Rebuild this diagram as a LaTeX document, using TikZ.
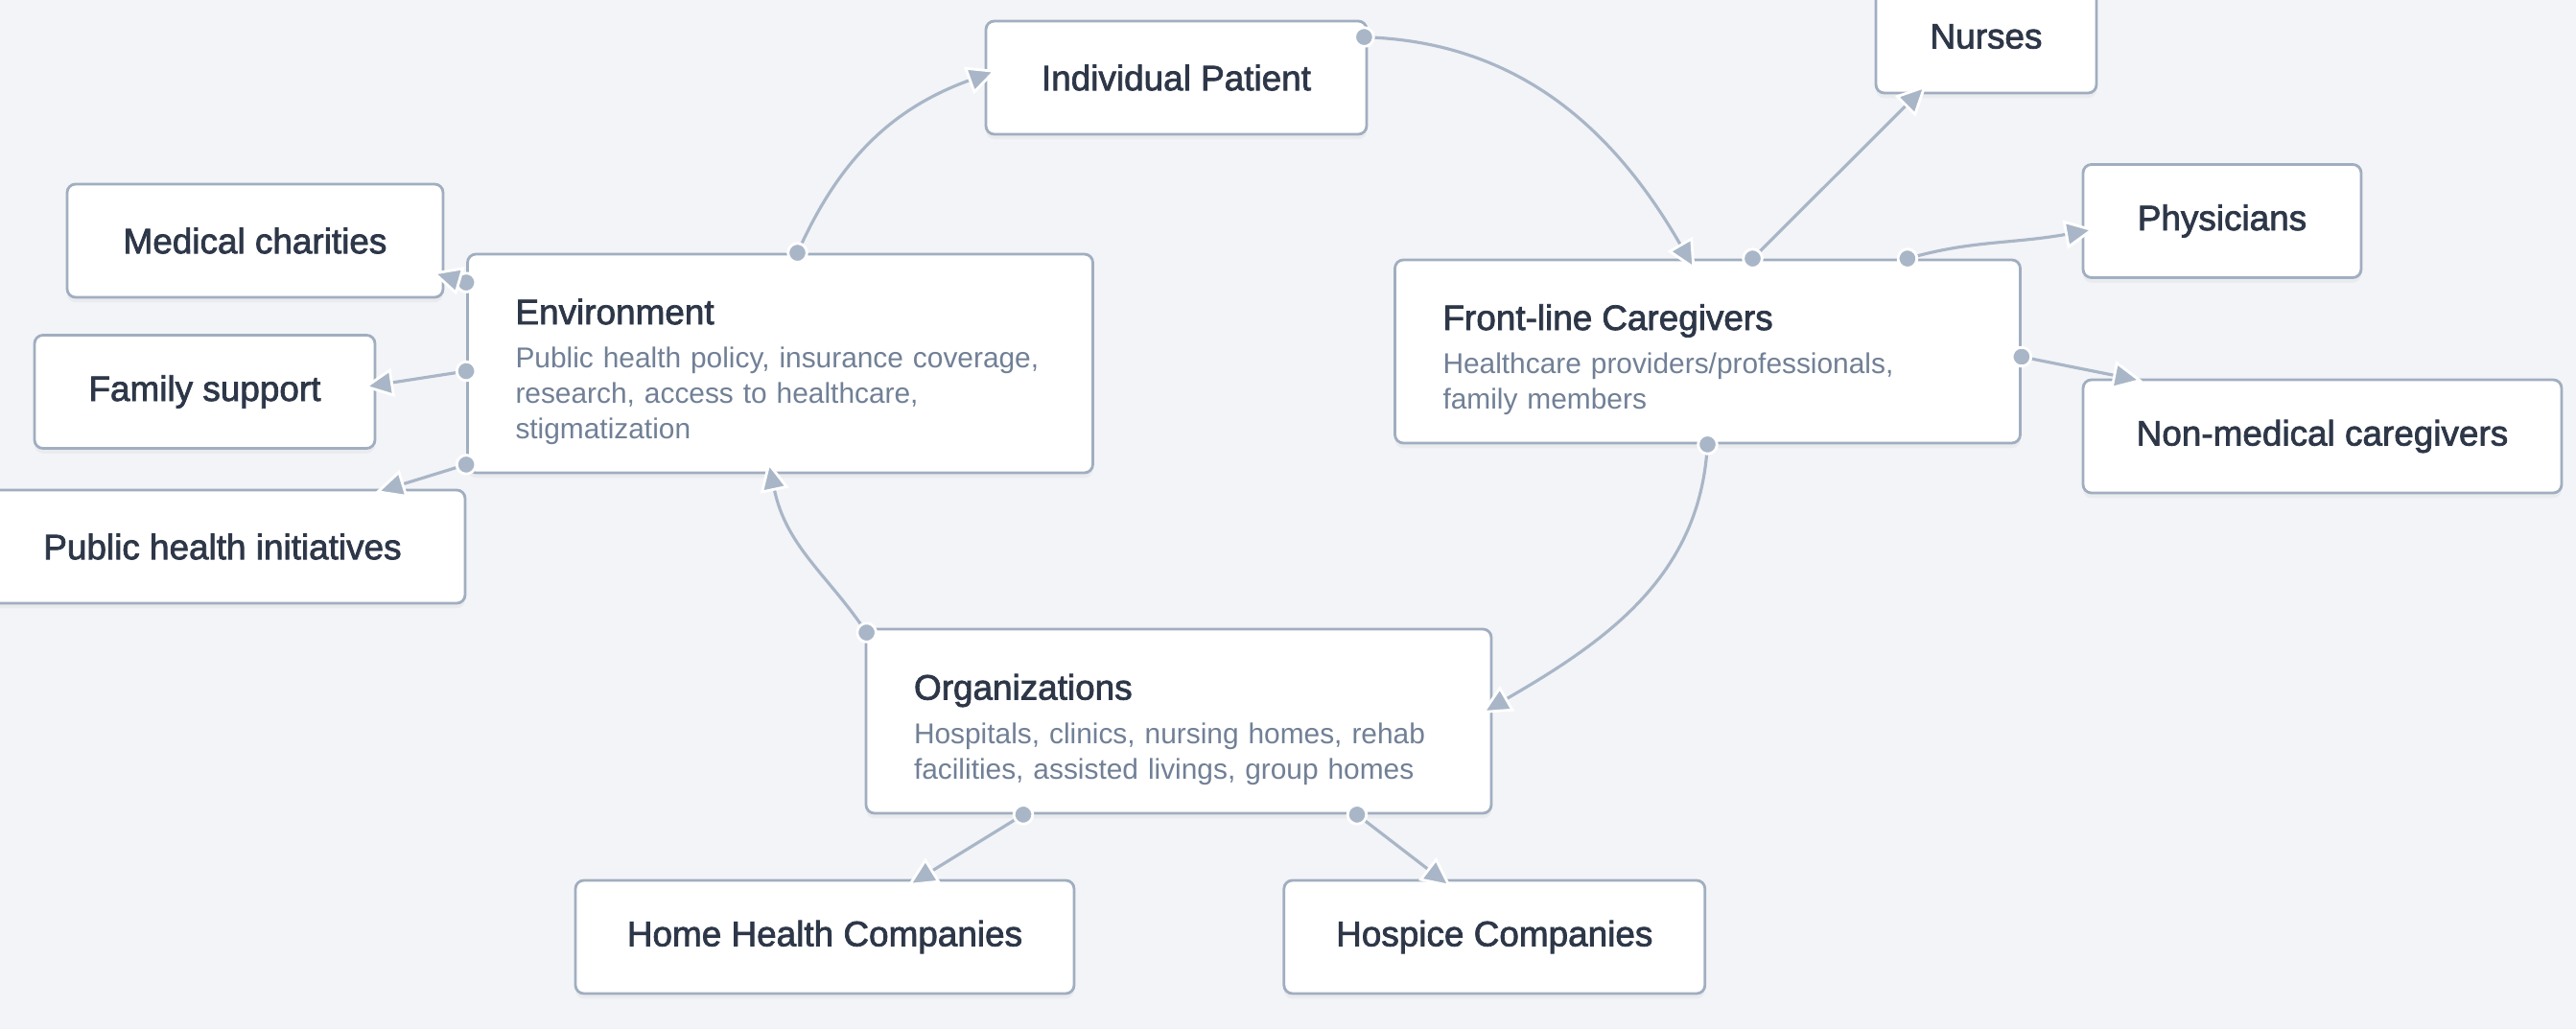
\documentclass[tikz,border=0pt]{standalone}
\usepackage{fontspec}
\setmainfont{Liberation Sans}
\newfontfamily\medium{Liberation Sans}[BoldFont={Liberation Sans}, BoldFeatures={FakeBold=2}]
\usetikzlibrary{arrows.meta,shadows,positioning}

\definecolor{bgc}{HTML}{F3F4F7}
\definecolor{boxline}{HTML}{A0AEC0}
\definecolor{edgec}{HTML}{A9B6C7}
\definecolor{titlec}{HTML}{2D3748}
\definecolor{subc}{HTML}{718096}

% heading line of the three big boxes
\newcommand{\hubhead}[1]{{\medium\bfseries\fontsize{10.5}{12}\selectfont\color{titlec}\rule{0pt}{12.5pt}#1}\\[2.5pt]}

\begin{document}
\begin{tikzpicture}[
        >={Stealth[inset=0pt,length=9pt,width=8.5pt,fill=edgec,color=white,line width'=0.8pt]},
        card/.style={draw=boxline, fill=white, line width=0.8pt, rounded corners=2.5pt,
            drop shadow={opacity=0.07, shadow xshift=0pt, shadow yshift=-1.5pt}},
        hub/.style={card, minimum width=6.52cm, text width=5.52cm, align=left, inner xsep=0.5cm,
            font=\fontsize{8.5}{10.5}\selectfont, text=subc},
        leaf/.style={card, minimum height=1.18cm, font=\medium\bfseries\fontsize{10.5}{12}\selectfont, text=titlec},
        link/.style={draw=edgec, line width=0.9pt,
            {Circle[length=6.4pt,fill=edgec,color=white,line width'=0.8pt]}->,
            shorten <=-3.2pt, shorten >=-4pt}
    ]
        \useasboundingbox (0,0) rectangle (26.86,10.73);
        \fill[bgc] (0,0) rectangle (26.86,10.73);

        % the four main groups
        \node (patient) [leaf, minimum width=3.97cm] at (12.265,9.92) {Individual Patient};
        \node (env) [hub, minimum height=2.28cm] at (8.135,6.94) {\hubhead{Environment}Public health policy, insurance coverage,\\research, access to healthcare,\\stigmatization};
        \node (front) [hub, minimum height=1.91cm] at (17.805,7.065) {\hubhead{Front-line Caregivers}Healthcare providers/professionals,\\family members};
        \node (org) [hub, minimum height=1.92cm] at (12.29,3.21) {\hubhead{Organizations}Hospitals, clinics, nursing homes, rehab\\facilities, assisted livings, group homes};

        % environment side
        \node (medchar) [leaf, minimum width=3.92cm] at (2.66,8.22) {Medical charities};
        \node (famsup) [leaf, minimum width=3.55cm] at (2.135,6.645) {Family support};
        \node (pubinit) [leaf, minimum width=5.06cm] at (2.32,5.03) {Public health initiatives};

        % caregivers side
        \node (nurses) [leaf, minimum width=2.30cm] at (20.71,10.35) {Nurses};
        \node (phys) [leaf, minimum width=2.90cm] at (23.17,8.425) {Physicians};
        \node (nonmed) [leaf, minimum width=4.99cm] at (24.215,6.18) {Non-medical caregivers};

        % organizations side
        \node (homeh) [leaf, minimum width=5.20cm] at (8.60,0.96) {Home Health Companies};
        \node (hospice) [leaf, right=2.16cm of homeh, minimum width=4.39cm] {Hospice Companies};

        % main cycle
        \draw[link] ([xshift=0.18cm]env.north) to[out=65,in=200] ([yshift=0.03cm]patient.west);
        \draw[link] ([shift={(-0.04,-0.18)}]patient.north east) to[out=-3,in=120] ([xshift=-0.2cm]front.north);
        \draw[link] (front.south) to[out=-95,in=30] ([yshift=0.15cm]org.east);
        \draw[link] ([shift={(0.02,-0.05)}]org.north west) to[out=125,in=-78] ([xshift=-0.095cm]env.south);

        % branches
        \draw[link] ([yshift=-0.31cm]env.north west) -- ([yshift=-0.37cm]medchar.east);
        \draw[link] ([yshift=-0.08cm]env.west) -- ([yshift=0.07cm]famsup.east);
        \draw[link] ([yshift=0.1cm]env.south west) -- ([xshift=-0.82cm]pubinit.north east);
        \draw[link] ([xshift=0.47cm]front.north) -- ([xshift=-0.72cm]nurses.south);
        \draw[link] ([xshift=-1.19cm]front.north east) to[out=15,in=190] ([yshift=-0.11cm]phys.west);
        \draw[link] ([yshift=-0.055cm]front.east) -- ([xshift=0.5cm]nonmed.north west);
        \draw[link] ([xshift=-1.62cm]org.south) -- ([xshift=0.98cm]homeh.north);
        \draw[link] ([xshift=1.86cm]org.south) -- ([xshift=-0.56cm]hospice.north);
\end{tikzpicture}
\end{document}
